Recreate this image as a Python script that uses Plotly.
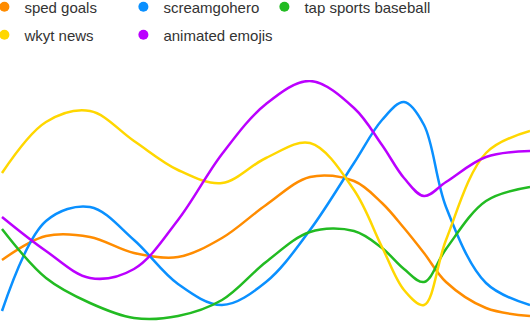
import plotly.graph_objects as go

# sample positions shared by every series
t = [2, 46, 90, 134, 178, 222, 266, 310, 354, 382, 404, 424, 446, 486, 530]

sped_goals = [63, 87, 86, 70, 66, 85, 118, 146, 142, 120, 95, 70, 41, 15, 7]
screamgohero = [12, 102, 116, 83, 39, 18, 41, 93, 160, 203, 221, 198, 116, 40, 18]
tap_sports_baseball = [94, 45, 20, 5, 7, 23, 61, 91, 92, 75, 54, 41, 74, 122, 136]
wkyt_news = [150, 201, 212, 182, 153, 140, 165, 180, 133, 76, 33, 18, 83, 170, 192]
animated_emojis = [106, 72, 45, 54, 103, 169, 219, 242, 215, 178, 145, 127, 141, 166, 172]

names = ["sped goals", "screamgohero", "tap sports baseball", "wkyt news", "animated emojis"]
values = [sped_goals, screamgohero, tap_sports_baseball, wkyt_news, animated_emojis]
colors = ["#ff8c00", "#0a90ff", "#22bb22", "#ffd700", "#bb00ff"]

W, H, TOP = 530, 323, 80

# legend grid: column left edges (px) and row centres (px from top)
col_px = [-15.6, 123.4, 264.4]
row_px = [7, 35]
grid = [(0, 0), (0, 1), (0, 2), (1, 0), (1, 1)]

fig = go.Figure()

for name, ys, color in zip(names, values, colors):
    fig.add_trace(go.Scatter(
        x=t, y=ys, mode="lines", name=name, showlegend=False,
        line=dict(color=color, width=2.5, shape="spline", smoothing=1.0),
        hoverinfo="skip",
    ))

legend_font = dict(family="Liberation Sans, Arial, sans-serif", size=15, color="#333333")
legends = {}
for i, (name, color, (r, c)) in enumerate(zip(names, colors, grid)):
    key = "legend" if i == 0 else f"legend{i + 1}"
    fig.add_trace(go.Scatter(
        x=[None], y=[None], mode="markers", name=name, legend=key,
        marker=dict(color=color, size=10, symbol="circle"),
    ))
    legends[key] = dict(
        orientation="h", xanchor="left", yanchor="middle",
        x=col_px[c] / W, y=(H - row_px[r]) / (H - TOP),
        font=legend_font, bgcolor="rgba(0,0,0,0)", borderwidth=0, itemclick=False,
    )

fig.update_layout(
    width=W, height=H,
    margin=dict(l=0, r=0, t=TOP, b=0, pad=0, autoexpand=False),
    paper_bgcolor="white", plot_bgcolor="white",
    xaxis=dict(visible=False, range=[0, 530], fixedrange=True),
    yaxis=dict(visible=False, range=[0, 243], fixedrange=True),
    showlegend=True,
    **legends,
)

fig.write_html("out.html")
